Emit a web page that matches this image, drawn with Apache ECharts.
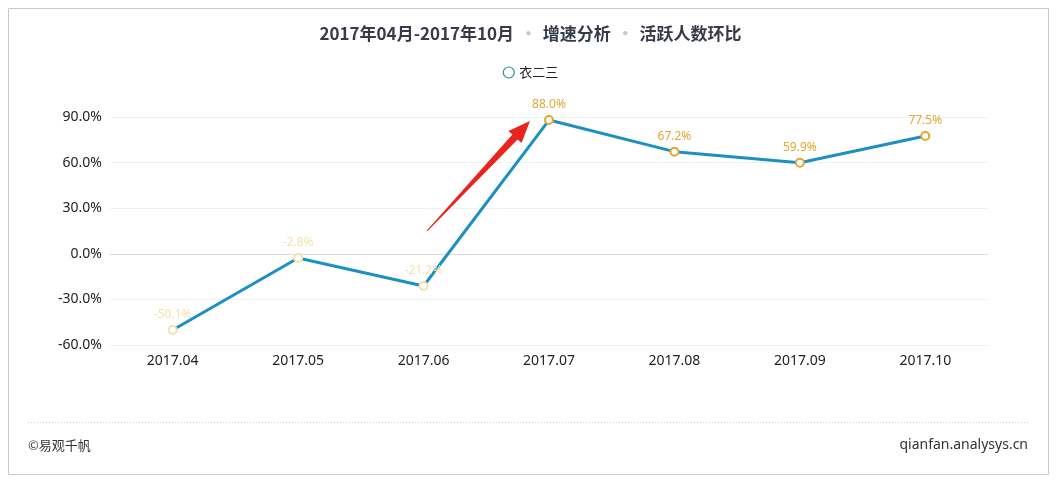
<!DOCTYPE html>
<html>
<head>
<meta charset="utf-8">
<title>活跃人数环比</title>
<script src="https://cdn.jsdelivr.net/npm/echarts@6/dist/echarts.min.js"></script>
<style>
html,body{margin:0;padding:0;background:#fff;}
#main{width:1061px;height:483px;}
</style>
</head>
<body>
<div id="main"></div>
<script>
var months = ['2017.04','2017.05','2017.06','2017.07','2017.08','2017.09','2017.10'];
var growth = [-50.1, -2.8, -21.2, 88.0, 67.2, 59.9, 77.5];
var yTicks = [-60, -30, 0, 30, 60, 90];
var seriesName = '衣二三';

var font = '"Noto Sans", "Noto Sans CJK SC", sans-serif';
var gold = '#e3a632', pale = '#f1e3ad';

var chart = echarts.init(document.getElementById('main'));

// points below zero are drawn faded in the original
var points = [];
for (var i = 0; i < growth.length; i++) {
	var faded = growth[i] < 0;
	points.push({
		value: growth[i],
		itemStyle: { color: faded ? pale : gold, borderColor: faded ? pale : gold },
		label: { color: faded ? pale : gold }
	});
}

var gridColors = [];
for (var j = 0; j < yTicks.length; j++) {
	gridColors.push(yTicks[j] == 0 ? '#d9d9d9' : '#f1f1f1');
}

var option = {
	backgroundColor: '#fff',
	title: [{
		text: '2017年04月-2017年10月 {d|·} 增速分析 {d|·} 活跃人数环比',
		left: 'center',
		top: 20,
		textStyle: {
			fontFamily: '"Noto Sans CJK SC", sans-serif',
			fontSize: 17,
			fontWeight: 'bold',
			color: '#363a4a',
			rich: { d: { color: '#c8c8c8', fontSize: 17, fontWeight: 'bold', padding: [0, 2] } }
		}
	}],
	legend: {
		top: 61,
		left: 'center',
		icon: 'circle',
		itemWidth: 11,
		itemHeight: 11,
		itemGap: 6,
		data: [seriesName],
		itemStyle: { color: '#fff', borderColor: '#2f8c99', borderWidth: 1.2 },
		textStyle: { fontFamily: '"Noto Sans CJK SC", sans-serif', fontSize: 13, color: '#222' }
	},
	grid: { left: 110, right: 73, top: 117, bottom: 138 },
	xAxis: {
		type: 'category',
		data: months,
		boundaryGap: true,
		axisLine: { show: false },
		axisTick: { show: false },
		axisLabel: { color: '#222', fontSize: 14, fontFamily: font, margin: 9 }
	},
	yAxis: {
		type: 'value',
		min: -60,
		max: 90,
		interval: 30,
		axisLine: { show: false },
		axisTick: { show: false },
		axisLabel: {
			color: '#222', fontSize: 14, fontFamily: font, margin: 8,
			formatter: function(v) { return v.toFixed(1) + '%'; }
		},
		splitLine: { lineStyle: { color: gridColors, width: 1 } }
	},
	series: [{
		name: seriesName,
		type: 'line',
		data: points,
		symbol: 'emptyCircle',
		symbolSize: 8,
		lineStyle: { color: '#1c8fc3', width: 3 },
		itemStyle: { borderWidth: 2 },
		label: {
			show: true,
			position: 'top',
			distance: 4,
			fontSize: 12,
			fontFamily: font,
			formatter: function(p) { return p.value.toFixed(1) + '%'; }
		}
	}],
	graphic: [
		{
			type: 'rect', silent: true, z: -1,
			shape: { x: 8.5, y: 8.5, width: 1040, height: 466 },
			style: { fill: 'none', stroke: '#c9c9c9', lineWidth: 1 }
		},
		{
			type: 'line', silent: true,
			shape: { x1: 28, y1: 422.5, x2: 1030, y2: 422.5 },
			style: { stroke: '#cfcfcf', lineWidth: 1, lineDash: [1, 2] }
		},
		{
			// red annotation arrow
			type: 'polygon', silent: true, z: 10,
			shape: { points: [[427.4, 231.3], [517.6, 139.4], [521.6, 143.1], [530, 121], [508.4, 130.9], [512.4, 134.6], [426.6, 230.7]] },
			style: { fill: '#e8251c' }
		},
		{
			type: 'text', silent: true, left: 28, top: 439,
			style: { text: '©易观千帆', fontSize: 13, fill: '#333', fontFamily: '"Noto Sans CJK SC", sans-serif' }
		},
		{
			type: 'text', silent: true, right: 33, top: 438,
			style: { text: 'qianfan.analysys.cn', fontSize: 14, fill: '#333', fontFamily: font }
		}
	]
};
chart.setOption(option);
</script>
</body>
</html>
